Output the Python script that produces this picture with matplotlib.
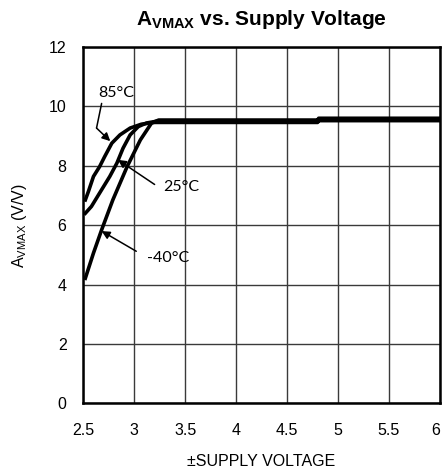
import matplotlib
matplotlib.use("Agg")
import matplotlib.pyplot as plt
import numpy as np

plt.rcParams['font.family'] = ['Liberation Sans', 'DejaVu Sans']
plt.rcParams['mathtext.fontset'] = 'custom'
plt.rcParams['mathtext.rm'] = 'Liberation Sans'
plt.rcParams['mathtext.it'] = 'Liberation Sans'
plt.rcParams['mathtext.bf'] = 'Liberation Sans:bold'

# Data
v_85 = [2.52, 2.55, 2.60, 2.66, 2.71, 2.78, 2.86, 2.96, 3.07, 3.20, 4.80, 4.81, 6.0]
g_85 = [6.85, 7.13, 7.64, 7.97, 8.31, 8.76, 9.04, 9.27, 9.40, 9.46, 9.46, 9.52, 9.52]

v_25 = [2.52, 2.58, 2.66, 2.76, 2.83, 2.89, 2.96, 3.04, 3.12, 3.22, 4.80, 4.81, 6.0]
g_25 = [6.40, 6.63, 7.08, 7.64, 8.09, 8.59, 9.04, 9.32, 9.44, 9.50, 9.50, 9.56, 9.56]

v_m40 = [2.52, 2.60, 2.68, 2.79, 2.93, 3.06, 3.17, 3.24, 4.80, 4.81, 6.0]
g_m40 = [4.21, 5.06, 5.84, 6.85, 7.97, 8.87, 9.44, 9.54, 9.54, 9.60, 9.60]

x_ticks = [2.5, 3, 3.5, 4, 4.5, 5, 5.5, 6]
x_ticklabels = ['2.5', '3', '3.5', '4', '4.5', '5', '5.5', '6']
y_ticks = [0, 2, 4, 6, 8, 10, 12]

fig = plt.figure(figsize=(4.43, 4.73), dpi=100)
ax = fig.add_axes([0.188, 0.1474, 0.805, 0.7532])

for v, g in [(v_85, g_85), (v_25, g_25), (v_m40, g_m40)]:
    ax.plot(v, g, color='black', lw=2.6, solid_joinstyle='round', zorder=3)

ax.set_xlim(2.5, 6)
ax.set_ylim(0, 12)
ax.set_xticks(x_ticks)
ax.set_xticklabels(x_ticklabels)
ax.set_yticks(y_ticks)
ax.grid(True, color='#3a3a3a', lw=1.0)
ax.tick_params(length=0, labelsize=11.5)
ax.tick_params(axis='x', pad=14)
ax.tick_params(axis='y', pad=12)
ax.get_xticklabels()[-1].set_horizontalalignment('right')
for s in ax.spines.values():
    s.set_linewidth(1.8)
    s.set_color('black')

ax.set_xlabel('±SUPPLY VOLTAGE', fontsize=11.5, labelpad=12)
ax.set_ylabel(r'A$_{\mathregular{VMAX}}$ (V/V)', fontsize=11.5, labelpad=14)
ax.set_title(r'$\mathbf{A_{VMAX}}$ vs. Supply Voltage', fontsize=15,
             fontweight='bold', pad=16)

lab_font = dict(family=['Lato', 'DejaVu Sans'], fontsize=11.5)
arrow = dict(arrowstyle='-|>', color='black', lw=1.1, mutation_scale=12, shrinkA=0, shrinkB=0)

# 85°C with bent leader
ax.text(2.82, 10.45, '85°C', ha='center', va='center', **lab_font)
ax.annotate('', xy=(2.63, 9.27), xytext=(2.68, 10.1),
            arrowprops=dict(arrowstyle='-', color='black', lw=1.1, shrinkA=0, shrinkB=0))
ax.annotate('', xy=(2.765, 8.83), xytext=(2.63, 9.27), arrowprops=arrow)

ax.annotate('', xy=(2.84, 8.2), xytext=(3.2, 7.37), arrowprops=arrow)
ax.text(3.46, 7.28, '25°C', ha='center', va='center', **lab_font)
ax.annotate('', xy=(2.68, 5.8), xytext=(3.02, 5.12), arrowprops=arrow)
ax.text(3.33, 4.9, '-40°C', ha='center', va='center', **lab_font)

fig.savefig('out.png', dpi=100)
